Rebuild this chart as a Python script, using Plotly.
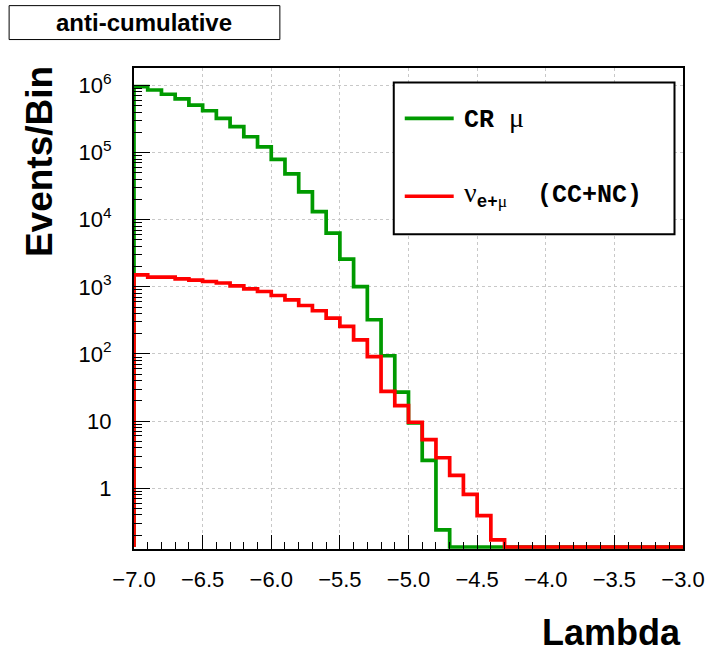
import numpy as np
import plotly.graph_objects as go

# ---------------- data ----------------
bin_edges = np.round(np.linspace(-7.0, -3.0, 41), 2)   # 40 bins of width 0.1 in Lambda

cr_mu = [9.6e5, 8.55e5, 7.4e5, 6.3e5, 5.1e5, 4.2e5, 3.24e5, 2.43e5, 1.72e5, 1.22e5,
         7.9e4, 4.8e4, 2.6e4, 1.32e4, 6.3e3, 2580, 1010, 323, 94, 27,
         9.4, 2.6, 0.24] + [0] * 17

nu_emu = [1510, 1390, 1390, 1310, 1260, 1200, 1140, 1030, 934, 852,
          742, 641, 527, 440, 342, 257, 162, 91, 27.7, 17,
          9.6, 5.3, 2.84, 1.55, 0.81, 0.39, 0.17] + [0] * 13

y_tick_vals = [1, 10, 1e2, 1e3, 1e4, 1e5, 1e6]
y_tick_text = ["1", "10", "10<sup>2</sup>", "10<sup>3</sup>", "10<sup>4</sup>",
               "10<sup>5</sup>", "10<sup>6</sup>"]

# ---------------- geometry / style ----------------
W, H = 706, 653
L, R, T, B = 134, 22.5, 67.5, 103.5
PW, PH = W - L - R, H - T - B
y_lo, y_hi = -0.906, 6.26
floor = 10 ** (y_lo + 0.03)   # ROOT draws empty bins on the frame bottom

GREEN = "#009a00"
RED = "#ff0000"


def px(xp):
    return (xp - L) / PW


def py(yp):
    return (H - B - yp) / PH


def step_trace(values, color):
    vals = [max(v, floor) for v in values]
    x = [bin_edges[0]] + list(bin_edges)
    y = [floor] + vals + [vals[-1]]
    return go.Scatter(x=x, y=y, mode="lines", line=dict(color=color, width=3.7, shape="hv"),
                      hoverinfo="skip", showlegend=False)


fig = go.Figure()
fig.add_trace(step_trace(cr_mu, GREEN))
fig.add_trace(step_trace(nu_emu, RED))

minor_y = [k * 10 ** e for e in range(-1, 7) for k in range(2, 10)
           if y_lo < np.log10(k * 10 ** e) < y_hi]

fig.update_layout(
    template="none",
    width=W, height=H,
    margin=dict(l=L, r=R, t=T, b=B, pad=0, autoexpand=False),
    plot_bgcolor="white", paper_bgcolor="white",
    font=dict(family="Liberation Sans, Arial, sans-serif", size=22, color="black"),
    showlegend=False,
    xaxis=dict(
        automargin=False,
        range=[-7, -3], tickmode="linear", tick0=-7, dtick=0.5, tickformat=".1f",
        ticks="inside", ticklen=14, tickwidth=1, tickcolor="black",
        showline=True, linecolor="black", linewidth=2, mirror=True,
        showgrid=True, gridcolor="#c8c8c8", griddash="dot", gridwidth=1,
        zeroline=False, ticklabelstandoff=10,
        minor=dict(tick0=-7, dtick=0.1, ticks="inside", ticklen=7, tickcolor="black",
                   tickwidth=1, showgrid=False),
    ),
    yaxis=dict(
        automargin=False,
        type="log", range=[y_lo, y_hi],
        tickmode="array", tickvals=y_tick_vals, ticktext=y_tick_text,
        ticks="inside", ticklen=16, tickwidth=1, tickcolor="black",
        showline=True, linecolor="black", linewidth=2, mirror=True,
        showgrid=True, gridcolor="#c8c8c8", griddash="dot", gridwidth=1,
        zeroline=False, ticklabelstandoff=16,
        minor=dict(tickmode="array", tickvals=minor_y, ticks="inside", ticklen=8,
                   tickcolor="black", tickwidth=1, showgrid=False),
    ),
)

shapes = []
annotations = []

# title box
shapes.append(dict(type="rect", xref="paper", yref="paper",
                   x0=px(9), x1=px(280), y0=py(39), y1=py(5),
                   line=dict(color="black", width=1), fillcolor="white", layer="above"))
annotations.append(dict(xref="paper", yref="paper", x=px(144), y=py(22),
                        text="<b>anti-cumulative</b>", showarrow=False,
                        xanchor="center", yanchor="middle",
                        font=dict(size=24, family="Liberation Sans")))

# legend box
shapes.append(dict(type="rect", xref="paper", yref="paper",
                   x0=px(394), x1=px(675), y0=py(234), y1=py(82),
                   line=dict(color="black", width=2), fillcolor="white", layer="above"))
shapes.append(dict(type="line", xref="paper", yref="paper",
                   x0=px(405), x1=px(454), y0=py(118), y1=py(118),
                   line=dict(color=GREEN, width=3.7), layer="above"))
shapes.append(dict(type="line", xref="paper", yref="paper",
                   x0=px(405), x1=px(454), y0=py(196), y1=py(196),
                   line=dict(color=RED, width=3.7), layer="above"))
annotations.append(dict(xref="paper", yref="paper", x=px(462), y=py(118),
                        text="<b>CR\u00a0</b><span style='font-family:Liberation Serif;font-size:28px'>μ</span>",
                        showarrow=False, xanchor="left", yanchor="middle",
                        font=dict(size=25, family="Liberation Mono")))
annotations.append(dict(xref="paper", yref="paper", x=px(462), y=py(194),
                        text="<span style='font-family:Liberation Serif;font-size:28px'>ν</span>"
                             "<sub><b>e+</b><span style='font-family:Liberation Serif'>μ</span></sub>"
                             "<b>\u00a0\u00a0(CC+NC)</b>",
                        showarrow=False, xanchor="left", yanchor="middle",
                        font=dict(size=25, family="Liberation Mono")))

# axis titles
annotations.append(dict(xref="paper", yref="paper", x=px(39), y=py(64),
                        text="<b>Events/Bin</b>", textangle=-90, showarrow=False,
                        xanchor="center", yanchor="top",
                        font=dict(size=37, family="Liberation Sans")))
annotations.append(dict(xref="paper", yref="paper", x=px(684), y=py(633),
                        text="<b>Lambda</b>", showarrow=False,
                        xanchor="right", yanchor="middle",
                        font=dict(size=36, family="Liberation Sans")))

fig.update_layout(shapes=shapes, annotations=annotations)
fig.write_html("out.html",
               config={"displayModeBar": False},
               post_script="document.body.style.margin='0';document.body.style.padding='0';")
